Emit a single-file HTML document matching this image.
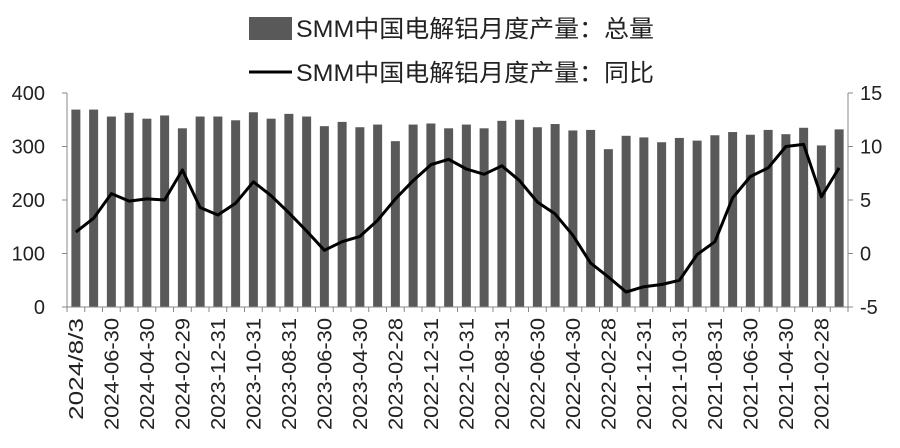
<!DOCTYPE html>
<html><head><meta charset="utf-8"><style>
body{margin:0;background:#fff;}
svg text{font-family:"Liberation Sans","Noto Sans CJK SC",sans-serif;fill:#222;}
</style></head><body>
<svg id="c" width="900" height="443" xmlns="http://www.w3.org/2000/svg">
<rect x="249" y="17" width="43" height="23" fill="#595959"/>
<text x="296" y="37" font-size="24" textLength="358" lengthAdjust="spacingAndGlyphs">SMM中国电解铝月度产量：总量</text>
<line x1="249" y1="72" x2="292" y2="72" stroke="#000" stroke-width="3"/>
<text x="296" y="81" font-size="24" textLength="358" lengthAdjust="spacingAndGlyphs">SMM中国电解铝月度产量：同比</text>
<g id="g"></g>
</svg>
<script>
const bars=[369,369,356,363,352,358,334,356,356,349,364,352,361,356,338,346,336,341,310,341,343,334,341,334,348,350,336,342,330,331,295,320,317,308,316,311,321,327,322,331,323,335,302,332];
const line=[2.0,3.3,5.6,4.9,5.1,5.0,7.8,4.3,3.6,4.7,6.7,5.4,3.8,2.1,0.3,1.1,1.6,3.1,5.1,6.8,8.3,8.8,7.9,7.4,8.2,6.8,4.8,3.7,1.7,-0.9,-2.2,-3.6,-3.1,-2.9,-2.5,-0.1,1.1,5.2,7.2,8.0,10.0,10.2,5.3,8.0];
const labels=["2024/8/31","2024-06-30","2024-04-30","2024-02-29","2023-12-31","2023-10-31","2023-08-31","2023-06-30","2023-04-30","2023-02-28","2022-12-31","2022-10-31","2022-08-31","2022-06-30","2022-04-30","2022-02-28","2021-12-31","2021-10-31","2021-08-31","2021-06-30","2021-04-30","2021-02-28"];
const L=67,R=848,T=93,B=307,n=44,w=(R-L)/n;
const yL=v=>B-v*(B-T)/400, yR=v=>B-(v+5)*(B-T)/20;
let s='';
for(let i=0;i<n;i++){const cx=L+w*(i+0.5);s+=`<rect x="${cx-4.5}" y="${yL(bars[i])}" width="9" height="${B-yL(bars[i])}" fill="#595959"/>`;}
s+=`<polyline fill="none" stroke="#000" stroke-width="3" stroke-linejoin="round" points="${line.map((v,i)=>(L+w*(i+0.5)).toFixed(1)+','+yR(v).toFixed(1)).join(' ')}"/>`;
s+=`<line x1="${L}" y1="${T}" x2="${L}" y2="${B}" stroke="#888"/><line x1="${R}" y1="${T}" x2="${R}" y2="${B}" stroke="#888"/><line x1="${L}" y1="${B}" x2="${R}" y2="${B}" stroke="#888"/>`;
for(let v=0;v<=400;v+=100){const y=yL(v);s+=`<line x1="${L-5}" y1="${y}" x2="${L}" y2="${y}" stroke="#888"/><text x="${L-22}" y="${y+7}" font-size="20" text-anchor="end">${v}</text>`;}
for(let v=-5;v<=15;v+=5){const y=yR(v);s+=`<line x1="${R}" y1="${y}" x2="${R+5}" y2="${y}" stroke="#888"/><text x="${R+12}" y="${y+7}" font-size="20">${v}</text>`;}
for(let i=0;i<=n;i++){const x=L+w*i;s+=`<line x1="${x}" y1="${B}" x2="${x}" y2="${B+5}" stroke="#888"/>`;}
labels.forEach((t,k)=>{const cx=L+w*(2*k+0.5)+7;s+=`<text transform="translate(${cx},${B+11}) rotate(-90)" font-size="20" text-anchor="end" textLength="${k==0?102:112}" lengthAdjust="spacingAndGlyphs">${k==0?'2024/8/3':t}</text>`;});
document.getElementById('g').innerHTML=s;
</script>
</body></html>
